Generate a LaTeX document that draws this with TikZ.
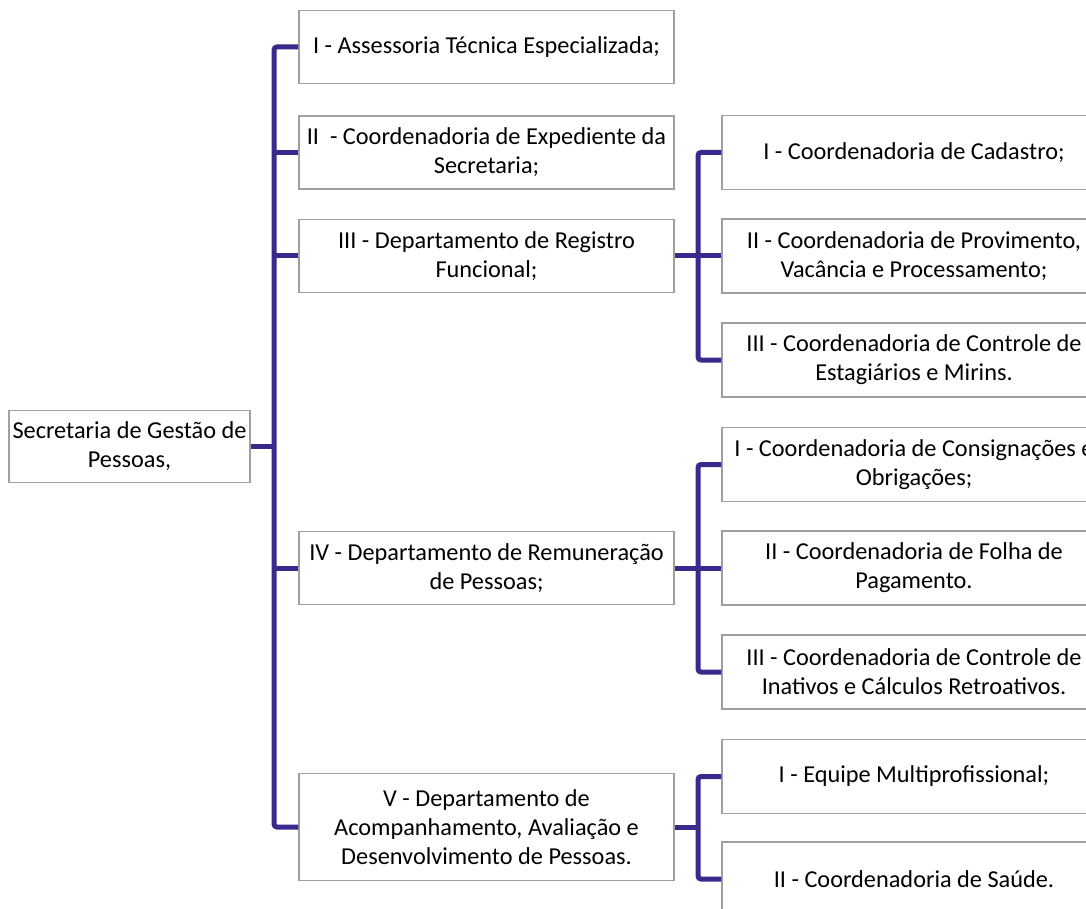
\documentclass[tikz,border=0pt]{standalone}
\usepackage{fontspec}
\setmainfont{Carlito}
\definecolor{boxgray}{RGB}{160,160,160}
\definecolor{linkpurple}{RGB}{56,42,140}
\begin{document}
\begin{tikzpicture}[x=1pt,y=-1pt,
  box/.style={draw=boxgray, line width=1.4pt, fill=white, align=center,
    inner sep=0pt, font=\fontsize{24.3}{29}\selectfont},
  rootbox/.style={box, minimum width=241pt, minimum height=72pt},
  lvone/.style={box, minimum width=375pt, minimum height=73pt},
  lvtwo/.style={box, minimum width=384pt, minimum height=74pt},
  link/.style={draw=linkpurple, line width=5pt, rounded corners=3pt},
]
\useasboundingbox (0,0) rectangle (1086,909);
\clip (0,0) rectangle (1086,909);

% root
\node[rootbox] (root) at (129.5,446.5) {Secretaria de Gestão de\\Pessoas,};

% first level
\node[lvone] (u1) at (486.5,47)    {I - Assessoria Técnica Especializada;};
\node[lvone] (u2) at (486.5,152.5) {II\ \ - Coordenadoria de Expediente da\\Secretaria;};
\node[lvone] (u3) at (486.5,256)   {III - Departamento de Registro\\Funcional;};
\node[lvone] (u4) at (486.5,568)   {IV - Departamento de Remuneração\\de Pessoas;};
\node[lvone, minimum height=107pt] (u5) at (486.5,827)
  {V - Departamento de\\Acompanhamento, Avaliação e\\Desenvolvimento de Pessoas.};

% second level under III
\node[lvtwo] (a1) at (914,152.5) {I - Coordenadoria de Cadastro;};
\node[lvtwo] (a2) at (914,256)   {II - Coordenadoria de Provimento,\\Vacância e Processamento;};
\node[lvtwo] (a3) at (914,360)   {III - Coordenadoria de Controle de\\Estagiários e Mirins.};

% second level under IV
\node[lvtwo] (b1) at (914,464.5) {I - Coordenadoria de Consignações e\\Obrigações;};
\node[lvtwo] (b2) at (914,568)   {II - Coordenadoria de Folha de\\Pagamento.};
\node[lvtwo] (b3) at (914,672)   {III - Coordenadoria de Controle de\\Inativos e Cálculos Retroativos.};

% second level under V
\node[lvtwo] (c1) at (914,776.5) {I - Equipe Multiprofissional;};
\node[lvtwo] (c2) at (914,879)   {II - Coordenadoria de Saúde.};

% junction points of the trunks
\coordinate (t0) at (274,446.5);
\coordinate (t3) at (698,256);
\coordinate (t4) at (698,568);
\coordinate (t5) at (698,827);

% main trunk
\draw[link] (u1.west) -| (t0) |- (u5.west);
\draw[link] (root.east) -- (t0);
\draw[link] (t0 |- u2.west) -- (u2.west);
\draw[link] (t0 |- u3.west) -- (u3.west);
\draw[link] (t0 |- u4.west) -- (u4.west);

% branch of III
\draw[link] (a1.west) -| (t3) |- (a3.west);
\draw[link] (u3.east) -- (a2.west);

% branch of IV
\draw[link] (b1.west) -| (t4) |- (b3.west);
\draw[link] (u4.east) -- (b2.west);

% branch of V
\draw[link] (c1.west) -| (t5) |- (c2.west);
\draw[link] (u5.east) -- (t5);
\end{tikzpicture}
\end{document}
